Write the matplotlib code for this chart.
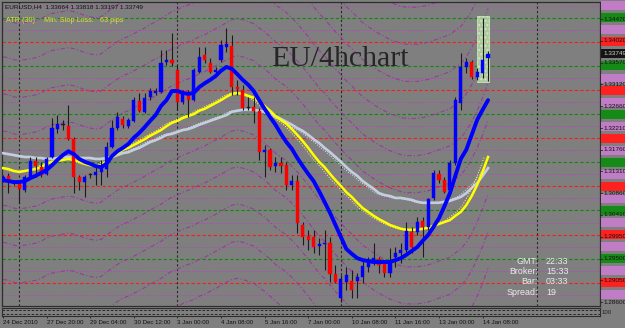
import matplotlib
matplotlib.use("Agg")
import matplotlib.pyplot as plt
import matplotlib.transforms as mtransforms
from matplotlib.patches import Rectangle

# ---- data (EURUSD H4) ----
symbol_line = "EURUSD,H4  1.33664 1.33818 1.33197 1.33749"

time_labels = ["24 Dec 2010", "27 Dec 20:00", "29 Dec 04:00", "30 Dec 12:00",
               "3 Jan 00:00", "4 Jan 08:00", "5 Jan 16:00", "7 Jan 00:00",
               "10 Jan 08:00", "11 Jan 16:00", "13 Jan 00:00", "14 Jan 08:00"]
label_bars = [0, 8, 16, 24, 32, 40, 48, 56, 64, 72, 80, 88]
separator_bars = [3, 32, 62, 98]

opens = [1.3115, 1.3122, 1.3107, 1.3105, 1.3093, 1.3120, 1.3153, 1.3140, 1.3126, 1.3161,
         1.3219, 1.3228, 1.3225, 1.3198, 1.3120, 1.3109, 1.3124, 1.3124, 1.3130, 1.3136,
         1.3182, 1.3221, 1.3240, 1.3225, 1.3236, 1.3277, 1.3255, 1.3286, 1.3294, 1.3296,
         1.3358, 1.3362, 1.3342, 1.3275, 1.3294, 1.3279, 1.3338, 1.3373, 1.3356, 1.3338,
         1.3362, 1.3389, 1.3392, 1.3306, 1.3300, 1.3263, 1.3265, 1.3257, 1.3171, 1.3176,
         1.3142, 1.3149, 1.3144, 1.3103, 1.3111, 1.3020, 1.2997, 1.2995, 1.2976, 1.2980,
         1.2983, 1.2918, 1.2868, 1.2902, 1.2904, 1.2904, 1.2912, 1.2933, 1.2943, 1.2949,
         1.2939, 1.2920, 1.2954, 1.2962, 1.2968, 1.3005, 1.3005, 1.3028, 1.3016, 1.3076,
         1.3126, 1.3113, 1.3093, 1.3149, 1.3273, 1.3348, 1.3358, 1.3327, 1.3335, 1.33664]
highs = [1.3124, 1.3128, 1.3111, 1.3113, 1.3124, 1.3161, 1.3161, 1.3151, 1.3161, 1.3242,
         1.3248, 1.3238, 1.3269, 1.3203, 1.3124, 1.3124, 1.3128, 1.3144, 1.3155, 1.3192,
         1.3238, 1.3255, 1.3246, 1.3242, 1.3286, 1.3294, 1.3294, 1.3304, 1.3304, 1.3383,
         1.3383, 1.3419, 1.3352, 1.3300, 1.3300, 1.3346, 1.3389, 1.3389, 1.3367, 1.3348,
         1.3404, 1.3429, 1.3414, 1.3321, 1.3311, 1.3286, 1.3286, 1.3263, 1.3186, 1.3180,
         1.3161, 1.3161, 1.3151, 1.3124, 1.3124, 1.3026, 1.3010, 1.3010, 1.2993, 1.3010,
         1.2995, 1.2937, 1.2916, 1.2933, 1.2927, 1.2920, 1.2947, 1.2954, 1.2983, 1.2954,
         1.2947, 1.2972, 1.2974, 1.2983, 1.3026, 1.3016, 1.3037, 1.3037, 1.3076, 1.3134,
         1.3134, 1.3120, 1.3155, 1.3286, 1.3377, 1.3367, 1.3362, 1.3346, 1.3450, 1.33818]
lows = [1.3109, 1.3086, 1.3103, 1.3066, 1.3088, 1.3117, 1.3120, 1.3120, 1.3124, 1.3159,
        1.3211, 1.3217, 1.3196, 1.3086, 1.3093, 1.3078, 1.3117, 1.3103, 1.3103, 1.3120,
        1.3180, 1.3217, 1.3221, 1.3221, 1.3234, 1.3255, 1.3252, 1.3279, 1.3290, 1.3294,
        1.3352, 1.3350, 1.3259, 1.3271, 1.3244, 1.3277, 1.3335, 1.3356, 1.3335, 1.3331,
        1.3358, 1.3379, 1.3290, 1.3290, 1.3259, 1.3259, 1.3232, 1.3155, 1.3120, 1.3134,
        1.3130, 1.3128, 1.3093, 1.3093, 1.3003, 1.2978, 1.2968, 1.2962, 1.2958, 1.2927,
        1.2902, 1.2900, 1.2860, 1.2885, 1.2868, 1.2868, 1.2900, 1.2922, 1.2937, 1.2920,
        1.2912, 1.2912, 1.2933, 1.2941, 1.2964, 1.2962, 1.2999, 1.2954, 1.3010, 1.3072,
        1.3107, 1.3086, 1.3088, 1.3144, 1.3259, 1.3335, 1.3323, 1.3321, 1.3325, 1.33197]
closes = [1.3120, 1.3109, 1.3107, 1.3095, 1.3120, 1.3153, 1.3142, 1.3124, 1.3157, 1.3221,
          1.3230, 1.3228, 1.3198, 1.3120, 1.3109, 1.3120, 1.3124, 1.3130, 1.3138, 1.3182,
          1.3221, 1.3244, 1.3228, 1.3238, 1.3279, 1.3257, 1.3284, 1.3298, 1.3298, 1.3356,
          1.3362, 1.3356, 1.3275, 1.3294, 1.3279, 1.3342, 1.3369, 1.3362, 1.3338, 1.3342,
          1.3394, 1.3396, 1.3306, 1.3302, 1.3263, 1.3263, 1.3257, 1.3171, 1.3176, 1.3140,
          1.3149, 1.3142, 1.3103, 1.3111, 1.3024, 1.2995, 1.2989, 1.2974, 1.2980, 1.2983,
          1.2918, 1.2902, 1.2908, 1.2916, 1.2885, 1.2912, 1.2935, 1.2943, 1.2951, 1.2937,
          1.2920, 1.2943, 1.2962, 1.2968, 1.3007, 1.2974, 1.3026, 1.3016, 1.3074, 1.3128,
          1.3113, 1.3088, 1.3149, 1.3279, 1.3348, 1.3358, 1.3327, 1.3338, 1.3362, 1.33749]

# moving averages (blue fast, yellow, light grey-blue slow)
ma_blue = [1.3113, 1.3111, 1.3109, 1.3109, 1.3111, 1.3117, 1.3122, 1.3128, 1.3134, 1.3144,
           1.3155, 1.3165, 1.3173, 1.3167, 1.3157, 1.3151, 1.3147, 1.3142, 1.3140, 1.3147,
           1.3163, 1.3173, 1.3180, 1.3188, 1.3201, 1.3211, 1.3223, 1.3236, 1.3248, 1.3267,
           1.3279, 1.3298, 1.3298, 1.3294, 1.3292, 1.3294, 1.3306, 1.3314, 1.3321, 1.3329,
           1.3340, 1.3348, 1.3344, 1.3333, 1.3321, 1.3311, 1.3298, 1.3279, 1.3261, 1.3244,
           1.3228, 1.3209, 1.3192, 1.3178, 1.3159, 1.3142, 1.3126, 1.3111, 1.3090, 1.3068,
           1.3045, 1.3020, 1.2995, 1.2970, 1.2960, 1.2951, 1.2947, 1.2945, 1.2943, 1.2943,
           1.2943, 1.2943, 1.2947, 1.2951, 1.2958, 1.2966, 1.2974, 1.2987, 1.2999, 1.3016,
           1.3034, 1.3059, 1.3086, 1.3122, 1.3157, 1.3176, 1.3207, 1.3238, 1.3259, 1.3279]
ma_yellow = [1.3138, 1.3136, 1.3132, 1.3130, 1.3132, 1.3134, 1.3136, 1.3140, 1.3147, 1.3151,
             1.3153, 1.3155, 1.3157, 1.3155, 1.3151, 1.3147, 1.3144, 1.3142, 1.3144, 1.3153,
             1.3161, 1.3169, 1.3176, 1.3180, 1.3186, 1.3192, 1.3198, 1.3205, 1.3211, 1.3217,
             1.3225, 1.3232, 1.3236, 1.3242, 1.3246, 1.3250, 1.3257, 1.3261, 1.3267, 1.3273,
             1.3279, 1.3286, 1.3292, 1.3294, 1.3292, 1.3288, 1.3284, 1.3275, 1.3267, 1.3257,
             1.3246, 1.3238, 1.3230, 1.3219, 1.3207, 1.3194, 1.3180, 1.3165, 1.3151, 1.3140,
             1.3126, 1.3113, 1.3101, 1.3088, 1.3078, 1.3066, 1.3055, 1.3047, 1.3039, 1.3032,
             1.3026, 1.3020, 1.3016, 1.3012, 1.3010, 1.3010, 1.3010, 1.3012, 1.3014, 1.3018,
             1.3022, 1.3026, 1.3030, 1.3039, 1.3047, 1.3061, 1.3080, 1.3103, 1.3130, 1.3161]
ma_silver = [1.3169, 1.3167, 1.3165, 1.3163, 1.3161, 1.3161, 1.3159, 1.3159, 1.3157, 1.3157,
             1.3159, 1.3161, 1.3161, 1.3161, 1.3159, 1.3159, 1.3159, 1.3157, 1.3157, 1.3159,
             1.3161, 1.3165, 1.3169, 1.3171, 1.3176, 1.3180, 1.3186, 1.3192, 1.3196, 1.3201,
             1.3207, 1.3209, 1.3213, 1.3217, 1.3219, 1.3223, 1.3228, 1.3232, 1.3236, 1.3240,
             1.3244, 1.3248, 1.3255, 1.3257, 1.3259, 1.3259, 1.3259, 1.3257, 1.3255, 1.3250,
             1.3246, 1.3240, 1.3234, 1.3228, 1.3221, 1.3215, 1.3207, 1.3198, 1.3190, 1.3180,
             1.3171, 1.3161, 1.3151, 1.3140, 1.3130, 1.3122, 1.3111, 1.3103, 1.3095, 1.3086,
             1.3082, 1.3080, 1.3076, 1.3076, 1.3074, 1.3072, 1.3068, 1.3066, 1.3066, 1.3066,
             1.3066, 1.3068, 1.3070, 1.3074, 1.3078, 1.3086, 1.3097, 1.3107, 1.3122, 1.3138]

# envelope bands around the yellow average
env_step = 0.0077
env_levels = [-7, -6, -5, -4, -3, -2, -1, 1, 2, 3, 4, 5, 6, 7]

green_levels = [1.3450, 1.3350, 1.3250, 1.3150, 1.3050, 1.2950]
red_levels = [1.3400, 1.3300, 1.3200, 1.3100, 1.3000, 1.2900]
purple_levels = [1.3475, 1.3425, 1.3325, 1.3275, 1.3225, 1.3175, 1.3125,
                 1.3075, 1.3025, 1.2975, 1.2925, 1.2875]
price_ticks = [1.28600, 1.29050, 1.29500, 1.29950, 1.30410, 1.30860, 1.31310,
               1.31760, 1.32210, 1.32660, 1.33120, 1.33570, 1.34020, 1.34470]
last_price = 1.33749
range_bars = [87, 88, 89]

info_names = ["GMT:", "Broker:", "Bar:", "Spread:"]
info_values = ["22:33", "15:33", "03:33", "19"]

# ---- figure ----
W, H = 625, 328
BG = "#7f7f7f"
SMALL = "Liberation Sans"

fig = plt.figure(figsize=(W / 100, H / 100), dpi=100, facecolor=BG)
ax = fig.add_axes([2 / W, 1 - 306 / H, 598 / W, 304 / H], facecolor=BG)
ax.set_xlim(-0.18, 109.54)
ax.set_ylim(1.28517, 1.34828)
ax.set_xticks([])
ax.set_yticks([])
for s in ax.spines.values():
    s.set_color("#2e2e2e")
    s.set_linewidth(0.9)

bars = list(range(len(closes)))

# level lines
for lv in purple_levels:
    ax.axhline(lv, color="#b04cb8", lw=0.7, ls=(0, (1.5, 1.5)), zorder=1)
for lv in green_levels:
    ax.axhline(lv, color="#0f8a0f", lw=0.8, ls=(0, (3, 2)), zorder=1)
for lv in red_levels:
    ax.axhline(lv, color="#ff1a1a", lw=0.8, ls=(0, (3, 2)), zorder=1)
for b in separator_bars:
    ax.axvline(b, color="#262626", lw=0.8, ls=(0, (2, 2)), zorder=1)

# envelope curves
for k in env_levels:
    ax.plot(bars, [v + k * env_step for v in ma_yellow], color="#9a3a9e",
            lw=0.8, ls=(0, (4, 2, 1, 2)), zorder=2)

# day range box
lo = min(lows[b] for b in range_bars)
hi = max(highs[b] for b in range_bars)
ax.add_patch(Rectangle((range_bars[0] - 0.1, lo - 0.0004), len(range_bars) - 0.7,
                       hi - lo + 0.0008, facecolor="#b9dca6", edgecolor="#d6ecc8",
                       hatch="....", lw=0.6, alpha=0.8, zorder=3))

# moving averages
ax.plot([b - 0.7 for b in bars], ma_silver, color="#d8e2ee", lw=0.7, ls=":", zorder=4)
ax.plot(bars, ma_silver, color="#c3cfe0", lw=1.9, zorder=4)
ax.plot([b - 0.7 for b in bars], ma_yellow, color="#ffff60", lw=0.7, ls=":", zorder=4)
ax.plot(bars, ma_yellow, color="#ffff00", lw=1.8, zorder=4)

# candles
ax.vlines(bars, lows, highs, color="#1c1c1c", lw=0.8, zorder=5)
for b, o, c in zip(bars, opens, closes):
    if c > o:
        col = "#0000ff"
    elif c < o:
        col = "#ff0000"
    else:
        col = "#1c1c1c"
    h = max(abs(c - o), 0.00012)
    ax.bar(b, h, bottom=min(o, c), width=0.58, color=col, edgecolor=col,
           lw=0.3, zorder=6)

ax.plot(bars, ma_blue, color="#0000ff", lw=2.8, solid_capstyle="round", zorder=7)

# ---- price scale on the right ----
ptrans = mtransforms.blended_transform_factory(fig.transFigure, ax.transData)
px = (1.34828 - 1.28517) / 304
box_h = 9 * px
for levels, col in ((purple_levels, "#c07cc4"), (green_levels, "#168a16"),
                    (red_levels, "#ff2020")):
    for lv in levels:
        fig.patches.append(Rectangle((601 / W, lv - box_h / 2), 24 / W, box_h,
                                     transform=ptrans, facecolor=col, lw=0,
                                     figure=fig))
fig.patches.append(Rectangle((601 / W, last_price - box_h / 2), 24 / W, box_h,
                             transform=ptrans, facecolor="#141414", lw=0, figure=fig))
for t in price_ticks:
    fig.text(603 / W, t, f"{t:.5f}", transform=ptrans, fontsize=4.6,
             family=SMALL, color="#111111", va="center", ha="left")
    fig.lines.append(plt.Line2D([600 / W, 602 / W], [t, t], transform=ptrans,
                                color="#222222", lw=0.6, figure=fig))
fig.text(603 / W, last_price, f"{last_price:.5f}", transform=ptrans, fontsize=4.6,
         family=SMALL, color="#d0d0d0", va="center", ha="left")

# ---- lower indicator strip and time axis ----
ax2 = fig.add_axes([2 / W, 1 - 316 / H, 598 / W, 8 / H], facecolor=BG)
ax2.set_xlim(-0.18, 109.54)
ax2.set_ylim(0, 100)
ax2.axhline(80, color="#1a1a1a", lw=0.6, ls=(0, (3, 2)))
ax2.axhline(20, color="#1a1a1a", lw=0.6, ls=(0, (3, 2)))
ax2.set_yticks([])
for s in ax2.spines.values():
    s.set_color("#2e2e2e")
    s.set_linewidth(0.8)
ax2.set_xticks(label_bars)
ax2.set_xticklabels(time_labels, ha="left", fontsize=4.4, family=SMALL,
                    color="#111111")
ax2.tick_params(axis="x", length=1.6, width=0.6, pad=1.4, color="#222222")
fig.text(602 / W, 1 - 312 / H, "100", fontsize=4.4, family=SMALL,
         color="#222222", va="center")

# ---- texts on the chart ----
fig.text(5 / W, 1 - 7 / H, symbol_line, fontsize=4.6, family=SMALL,
         color="#111111", va="center")
fig.text(6 / W, 1 - 20 / H, "ATR (30)", fontsize=5.2, family=SMALL,
         color="#e0e030", va="center")
fig.text(44 / W, 1 - 20 / H, "Min. Stop Loss:", fontsize=5.2, family=SMALL,
         color="#e0e030", va="center")
fig.text(100 / W, 1 - 20 / H, "63 pips", fontsize=5.2, family=SMALL,
         color="#e0e030", va="center")
fig.text(271 / W, 1 - 59 / H, "EU/4hchart", fontsize=21.5,
         family="Liberation Serif", color="#262626", va="center", ha="left")

for n, (name, val) in enumerate(zip(info_names, info_values)):
    yy = 1 - (261 + 10.5 * n) / H
    fig.text(538 / W, yy, name, fontsize=6.4, family="Liberation Sans",
             color="#ececec", ha="right", va="center")
    fig.text(546 / W, yy, val, fontsize=6.4, family="Liberation Sans",
             color="#ececec", ha="left", va="center")

fig.savefig("out.png", dpi=100, facecolor=BG)
